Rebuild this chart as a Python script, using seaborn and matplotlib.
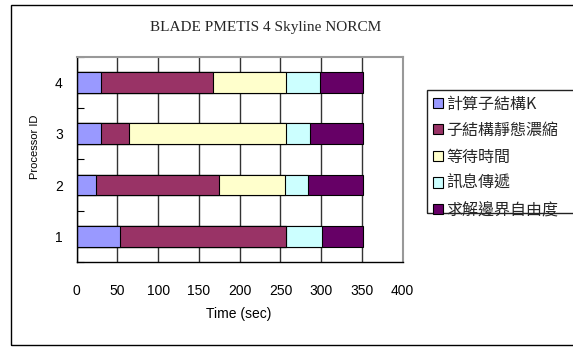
import matplotlib
matplotlib.use("Agg")
import matplotlib.pyplot as plt
from matplotlib.patches import Patch, Rectangle
import numpy as np
import pandas as pd
import seaborn as sns

# Per-processor time breakdown (seconds)
processors = ["1", "2", "3", "4"]
series_names = ["計算子結構K", "子結構靜態濃縮", "等待時間", "訊息傳遞", "求解邊界自由度"]
compute_k = [53, 24, 30, 30]
condensation = [203.5, 150, 34.5, 137]
waiting = [0, 82, 192, 89.5]
messaging = [44.5, 27.5, 30, 42.5]
solve_boundary = [50.5, 68, 65, 52.5]
series_colors = ["#9999FF", "#993366", "#FFFFCC", "#CCFFFF", "#660066"]
x_ticks = [0, 50, 100, 150, 200, 250, 300, 350, 400]

sns.set_theme(style="white")
plt.rcParams["font.family"] = ["Liberation Sans", "DejaVu Sans"]
cjk = ["Noto Sans CJK TC", "DejaVu Sans"]

df = pd.DataFrame(
    {"proc": processors},
)
values = [compute_k, condensation, waiting, messaging, solve_boundary]
cum = np.cumsum(np.array(values, dtype=float), axis=0)
for name, c in zip(series_names, cum):
    df[name] = c

W, H = 573, 347
fig = plt.figure(figsize=(W / 100, H / 100), dpi=100)
fig.patch.set_facecolor("white")

# outer chart frame (runs off the right edge)
fig.add_artist(Rectangle((11 / W, 1 - 345 / H), 1.2, (345 - 5) / H,
                         transform=fig.transFigure, fill=False,
                         edgecolor="black", linewidth=1.0, clip_on=False))

ax = fig.add_axes([76.7 / W, 1 - 262 / H, (402.7 - 76.7) / W, (262 - 56.7) / H])
ax.set_axisbelow(True)

order = processors[::-1]
# stacked bars: draw cumulative totals from the last segment to the first
for name, color in reversed(list(zip(series_names, series_colors))):
    sns.barplot(data=df, x=name, y="proc", order=order, orient="h",
                color=color, saturation=1, width=0.4,
                edgecolor="black", linewidth=0.8, ax=ax)

ax.set_xlim(0, 400)
ax.set_ylim(3.5, -0.5)
ax.set_xticks(x_ticks)
ax.set_xticklabels([str(t) for t in x_ticks])
ax.xaxis.grid(True, color="#333333", linewidth=1.0)
ax.yaxis.grid(False)

ax.tick_params(axis="x", length=0, pad=16, labelsize=10, colors="black")
ax.tick_params(axis="y", which="major", length=0, pad=10, labelsize=10, colors="black")
ax.set_yticks(np.arange(-0.5, 4.0, 1.0), minor=True)
ax.tick_params(axis="y", which="minor", direction="in", length=5,
               width=0.8, color="black", left=True)

for side in ("left", "bottom"):
    ax.spines[side].set_color("black")
    ax.spines[side].set_linewidth(1.0)
for side in ("top", "right"):
    ax.spines[side].set_color("#999999")
    ax.spines[side].set_linewidth(1.5)

ax.set_xlabel("Time (sec)", fontsize=10, color="black")
ax.xaxis.set_label_coords((239 - 76.7) / 326, (262 - 314) / 205.3)
ax.xaxis.label.set_va("center")
ax.set_ylabel("Processor ID", fontsize=8, color="black")
ax.yaxis.set_label_coords((35 - 76.7) / 326, (262 - 147) / 205.3)
ax.yaxis.label.set_va("center")

fig.text(266 / W, 1 - 27 / H, "BLADE PMETIS 4 Skyline NORCM",
         family="Liberation Serif", fontsize=11, ha="center", va="center")

# legend box
fig.add_artist(Rectangle((426.7 / W, 1 - 212.7 / H), 1.0, (212.7 - 90) / H,
                         transform=fig.transFigure, fill=False,
                         edgecolor="#222222", linewidth=1.0, clip_on=False))
handles = [Patch(facecolor=c, edgecolor="black", linewidth=0.8) for c in series_colors]
leg = fig.legend(handles, series_names, loc="center left",
                 bbox_to_anchor=(433 / W, 1 - 157 / H),
                 frameon=False, borderpad=0, borderaxespad=0,
                 handlelength=0.6, handleheight=0.6, handletextpad=0.25,
                 labelspacing=0.6, prop={"family": cjk, "size": 11.5})

fig.savefig("out.png", dpi=100)
